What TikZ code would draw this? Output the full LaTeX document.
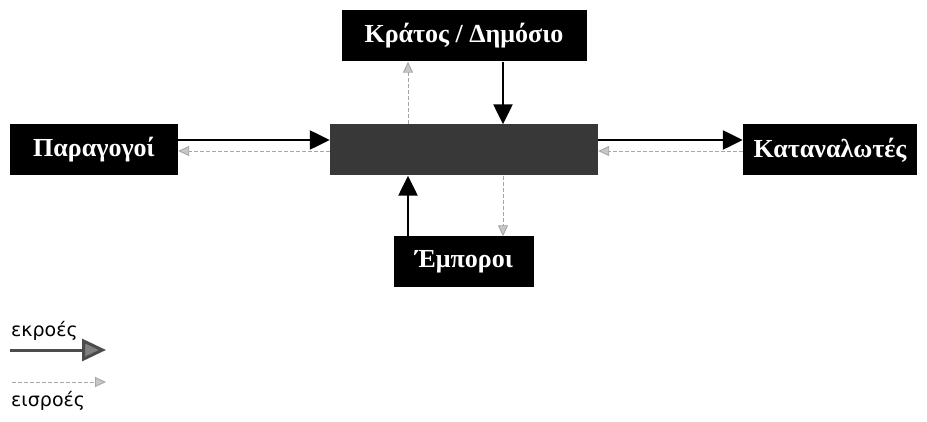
\documentclass[tikz,border=0pt]{standalone}
\usepackage{fontspec}
\setmainfont{Liberation Serif}
\newfontfamily\legendfont{DejaVu Sans}
\usetikzlibrary{arrows.meta}

\colorlet{marketfill}{black!78}
\colorlet{inflowline}{black!35}
\colorlet{inflowhead}{black!22}
\colorlet{legendhead}{black!50}

\begin{document}
\begin{tikzpicture}[x=1pt, y=-1pt,
  actor/.style={fill=black, text=white, inner sep=0pt, minimum height=51pt,
    font=\bfseries\fontsize{26}{28}\selectfont},
  outflow/.style={line width=2.4pt, -{Triangle[length=20pt,width=19pt]}},
  inflow/.style={draw=inflowline, line width=0.9pt, dash pattern=on 4pt off 2pt,
    -{Triangle[length=11pt,width=10pt,fill=inflowhead]}},
  legendtext/.style={font=\legendfont\fontsize{19}{21}\selectfont, inner sep=0pt}]
% frame of the picture
\useasboundingbox (0,0) rectangle (927,422);
% Actors
\node[actor, minimum width=268pt, fill=marketfill] (market) at (464,150) {};
\node[actor, minimum width=168pt] (prod) at (94,150) {Παραγογοί};
\node[actor, minimum width=174pt] (cons) at (830,150) {Καταναλωτές};
\node[actor, minimum width=245pt] (state) at (464,36) {Κράτος / Δημόσιο};
\node[actor, minimum width=140pt] (merch) at (464,262) {Έμποροι};
% Outflows (solid)
\draw[outflow] ([yshift=10pt]prod.east) -- ([yshift=10pt]market.west);
\draw[outflow] ([yshift=10pt]market.east) -- ([yshift=10pt]cons.west);
\draw[outflow] ([xshift=39pt]state.south) -- ([xshift=39pt]market.north);
\draw[outflow] ([xshift=-56pt]merch.north) -- ([xshift=-56pt]market.south);
% Inflows (dashed)
\draw[inflow] ([yshift=-1pt]market.west) -- ([yshift=-1pt]prod.east);
\draw[inflow] ([yshift=-1pt]cons.west) -- ([yshift=-1pt]market.east);
\draw[inflow] ([xshift=-56pt]market.north) -- ([xshift=-56pt]state.south);
\draw[inflow] ([xshift=39pt]market.south) -- ([xshift=39pt]merch.north);
% Legend
\node[legendtext, anchor=base west] (outlbl) at (11,336) {εκροές};
\node[legendtext, anchor=base west] (inlbl) at (11,406) {εισροές};
\coordinate (outA) at (10,350);
\coordinate (outB) at (106,350);
\coordinate (inA) at (12,382);
\coordinate (inB) at (106,382);
\draw[line width=3pt, black!70, -{Triangle[length=24pt,width=22pt,fill=legendhead]}] (outA) -- (outB);
\draw[inflow] (inA) -- (inB);
\end{tikzpicture}
\end{document}
